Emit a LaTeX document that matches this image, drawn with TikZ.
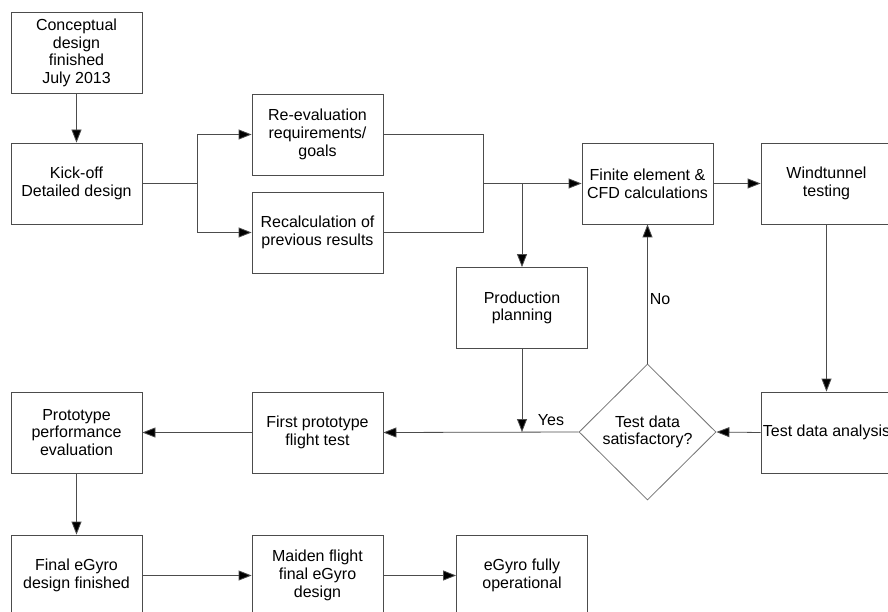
\documentclass[tikz,border=0pt]{standalone}
\usepackage{fontspec}
\setmainfont{Liberation Sans}
\usetikzlibrary{arrows.meta,shapes.geometric}
\begin{document}
\begin{tikzpicture}[x=1pt,y=-1pt,
  every node/.style={font=\fontsize{16}{17.7}\selectfont, text=black},
  stepbox/.style={draw=black!70, line width=0.8pt, fill=white, minimum width=131pt,
    minimum height=81pt, inner sep=0pt, align=center},
  decision/.style={diamond, draw=black!55, line width=0.8pt, fill=white, minimum width=137pt,
    minimum height=136pt, inner sep=0pt, align=center},
  link/.style={draw=black!70, line width=0.8pt, -{Triangle[length=13pt,width=10pt,fill=black]}},
  plain/.style={draw=black!70, line width=0.8pt}]
\useasboundingbox (0,0) rectangle (888,612);

% process steps
\node[stepbox] (concept) at (76.5,53)   {Conceptual\\design\\finished\\July 2013};
\node[stepbox] (kickoff) at (76.5,183.5) {Kick-off\\Detailed design};
\node[stepbox] (reeval)  at (317.5,134.5) {Re-evaluation\\requirements/\\goals};
\node[stepbox] (recalc)  at (317.5,232.5) {Recalculation of\\previous results};
\node[stepbox] (fe)      at (647.5,183.5) {Finite element \&\\CFD calculations};
\node[stepbox] (wind)    at (826.5,183.5) {Windtunnel\\testing};
\node[stepbox] (prod)    at (522,308)    {Production\\planning};
\node[stepbox] (tda)     at (826.5,432.5) {Test data analysis};
\node[decision] (check)  at (647.5,432)  {Test data\\satisfactory?};
\node[stepbox] (first)   at (317.5,432.5) {First prototype\\flight test};
\node[stepbox] (proto)   at (76.5,432.5) {Prototype\\performance\\evaluation};
\node[stepbox] (final)   at (76.5,575.5) {Final eGyro\\design finished};
\node[stepbox] (maiden)  at (317.5,575.5) {Maiden flight\\final eGyro\\design};
\node[stepbox] (fully)   at (522,575.5)  {eGyro fully\\operational};

% junction points
\coordinate (split) at (197,183.5);
\coordinate (merge) at (483,183.5);
\coordinate (tap)   at (522,183.5);
\coordinate (yesin) at (522,432);

% connectors
\draw[link] (concept) -- (kickoff);
\draw[plain] (kickoff.east) -- (split);
\draw[link] (split) |- (reeval.west);
\draw[link] (split) |- (recalc.west);
\draw[plain] (reeval.east) -| (merge);
\draw[plain] (recalc.east) -| (merge);
\draw[link] (merge) -- (fe.west);
\draw[link] (tap) -- (prod.north);
\draw[link] (fe.east) -- (wind.west);
\draw[link] (wind.south) -- (tda.north);
\draw[link] (tda.west) -- (check.east);
\draw[link] (check.north) -- node[right, pos=0.46, inner sep=2pt] {No} (fe.south);
\draw[link] (prod.south) -- (yesin);
\draw[link] (check.west) -- (first.east);
\node (yes) at (551,420) {Yes};
\draw[link] (first.west) -- (proto.east);
\draw[link] (proto.south) -- (final.north);
\draw[link] (final.east) -- (maiden.west);
\draw[link] (maiden.east) -- (fully.west);
\end{tikzpicture}
\end{document}
